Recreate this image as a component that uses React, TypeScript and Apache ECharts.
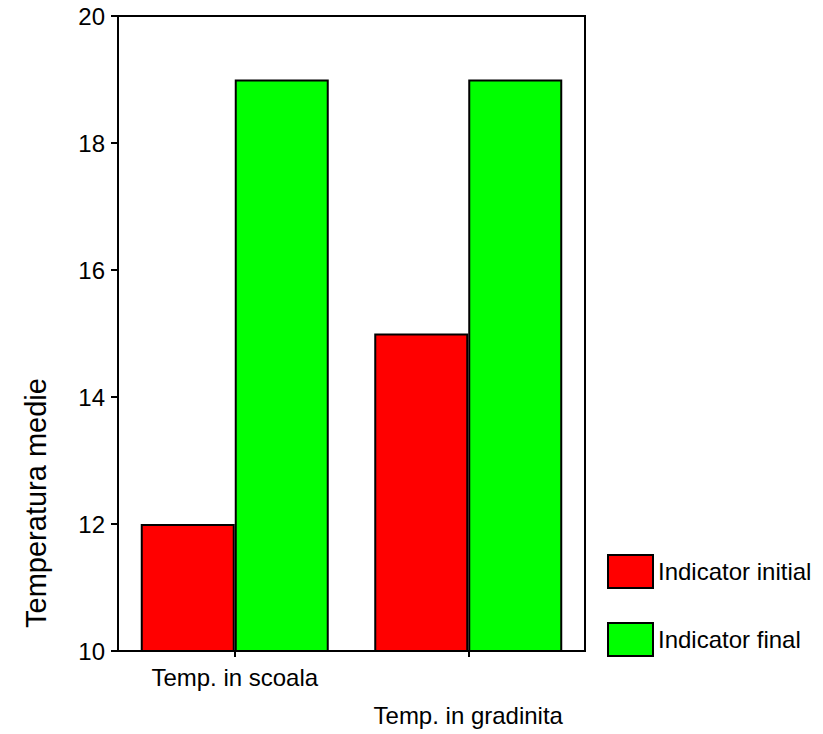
import React, { useEffect, useRef } from "react";
import * as echarts from "echarts";

const categories = ["Temp. in scoala", "Temp. in gradinita"];
const initialValues = [12, 15];
const finalValues = [19, 19];
const seriesNames = ["Indicator initial", "Indicator final"];
const yAxisTitle = "Temperatura medie";

const FONT = "Arial, 'Liberation Sans', Helvetica, sans-serif";

export default function App() {
  const ref = useRef<HTMLDivElement>(null);
  useEffect(() => {
    if (!ref.current) return;
    const chart = echarts.init(ref.current, null, { renderer: "svg" });
    chart.setOption({
      animation: false,
      backgroundColor: "#ffffff",
      grid: {
        left: 118,
        right: 238,
        top: 16,
        bottom: 80,
        show: true,
        borderColor: "#000",
        borderWidth: 2,
        backgroundColor: "transparent",
      },
      legend: {
        orient: "vertical",
        left: 602,
        top: 549,
        itemWidth: 45,
        itemHeight: 33,
        itemGap: 33,
        icon: "rect",
        selectedMode: false,
        itemStyle: { borderColor: "#000", borderWidth: 2 },
        textStyle: { fontSize: 24, color: "#000", fontFamily: FONT },
        data: seriesNames,
      },
      xAxis: {
        type: "category",
        data: categories,
        axisLine: { show: true, lineStyle: { color: "#000", width: 2 } },
        axisTick: { show: true, alignWithLabel: true, length: 6, lineStyle: { color: "#000", width: 2 } },
        axisLabel: {
          interval: 0,
          margin: 7,
          fontSize: 24,
          lineHeight: 38,
          color: "#000",
          fontFamily: FONT,
          formatter: (v: string, i: number) => (i % 2 === 1 ? "\n" + v : v),
        },
        splitLine: { show: false },
      },
      yAxis: {
        type: "value",
        min: 10,
        max: 20,
        interval: 2,
        axisLine: { show: true, lineStyle: { color: "#000", width: 2 } },
        axisTick: { show: true, length: 7, lineStyle: { color: "#000", width: 2 } },
        axisLabel: { margin: 13, fontSize: 24, color: "#000", fontFamily: FONT },
        splitLine: { show: false },
      },
      graphic: [
        {
          type: "text",
          x: 36,
          y: 503,
          rotation: Math.PI / 2,
          style: {
            text: yAxisTitle,
            fontSize: 29,
            fontFamily: FONT,
            fill: "#000",
            textAlign: "center",
            textVerticalAlign: "middle",
          },
        },
      ],
      series: [
        {
          name: seriesNames[0],
          type: "bar",
          data: initialValues,
          barWidth: 94,
          barGap: "0%",
          itemStyle: { color: "#ff0000", borderColor: "#000", borderWidth: 2 },
        },
        {
          name: seriesNames[1],
          type: "bar",
          data: finalValues,
          barWidth: 94,
          barGap: "0%",
          itemStyle: { color: "#00ff00", borderColor: "#000", borderWidth: 2 },
        },
      ],
    });
    return () => chart.dispose();
  }, []);
  return (
    <div
      ref={ref}
      style={{ position: "absolute", left: 0, top: 0, width: 823, height: 734 }}
    />
  );
}
